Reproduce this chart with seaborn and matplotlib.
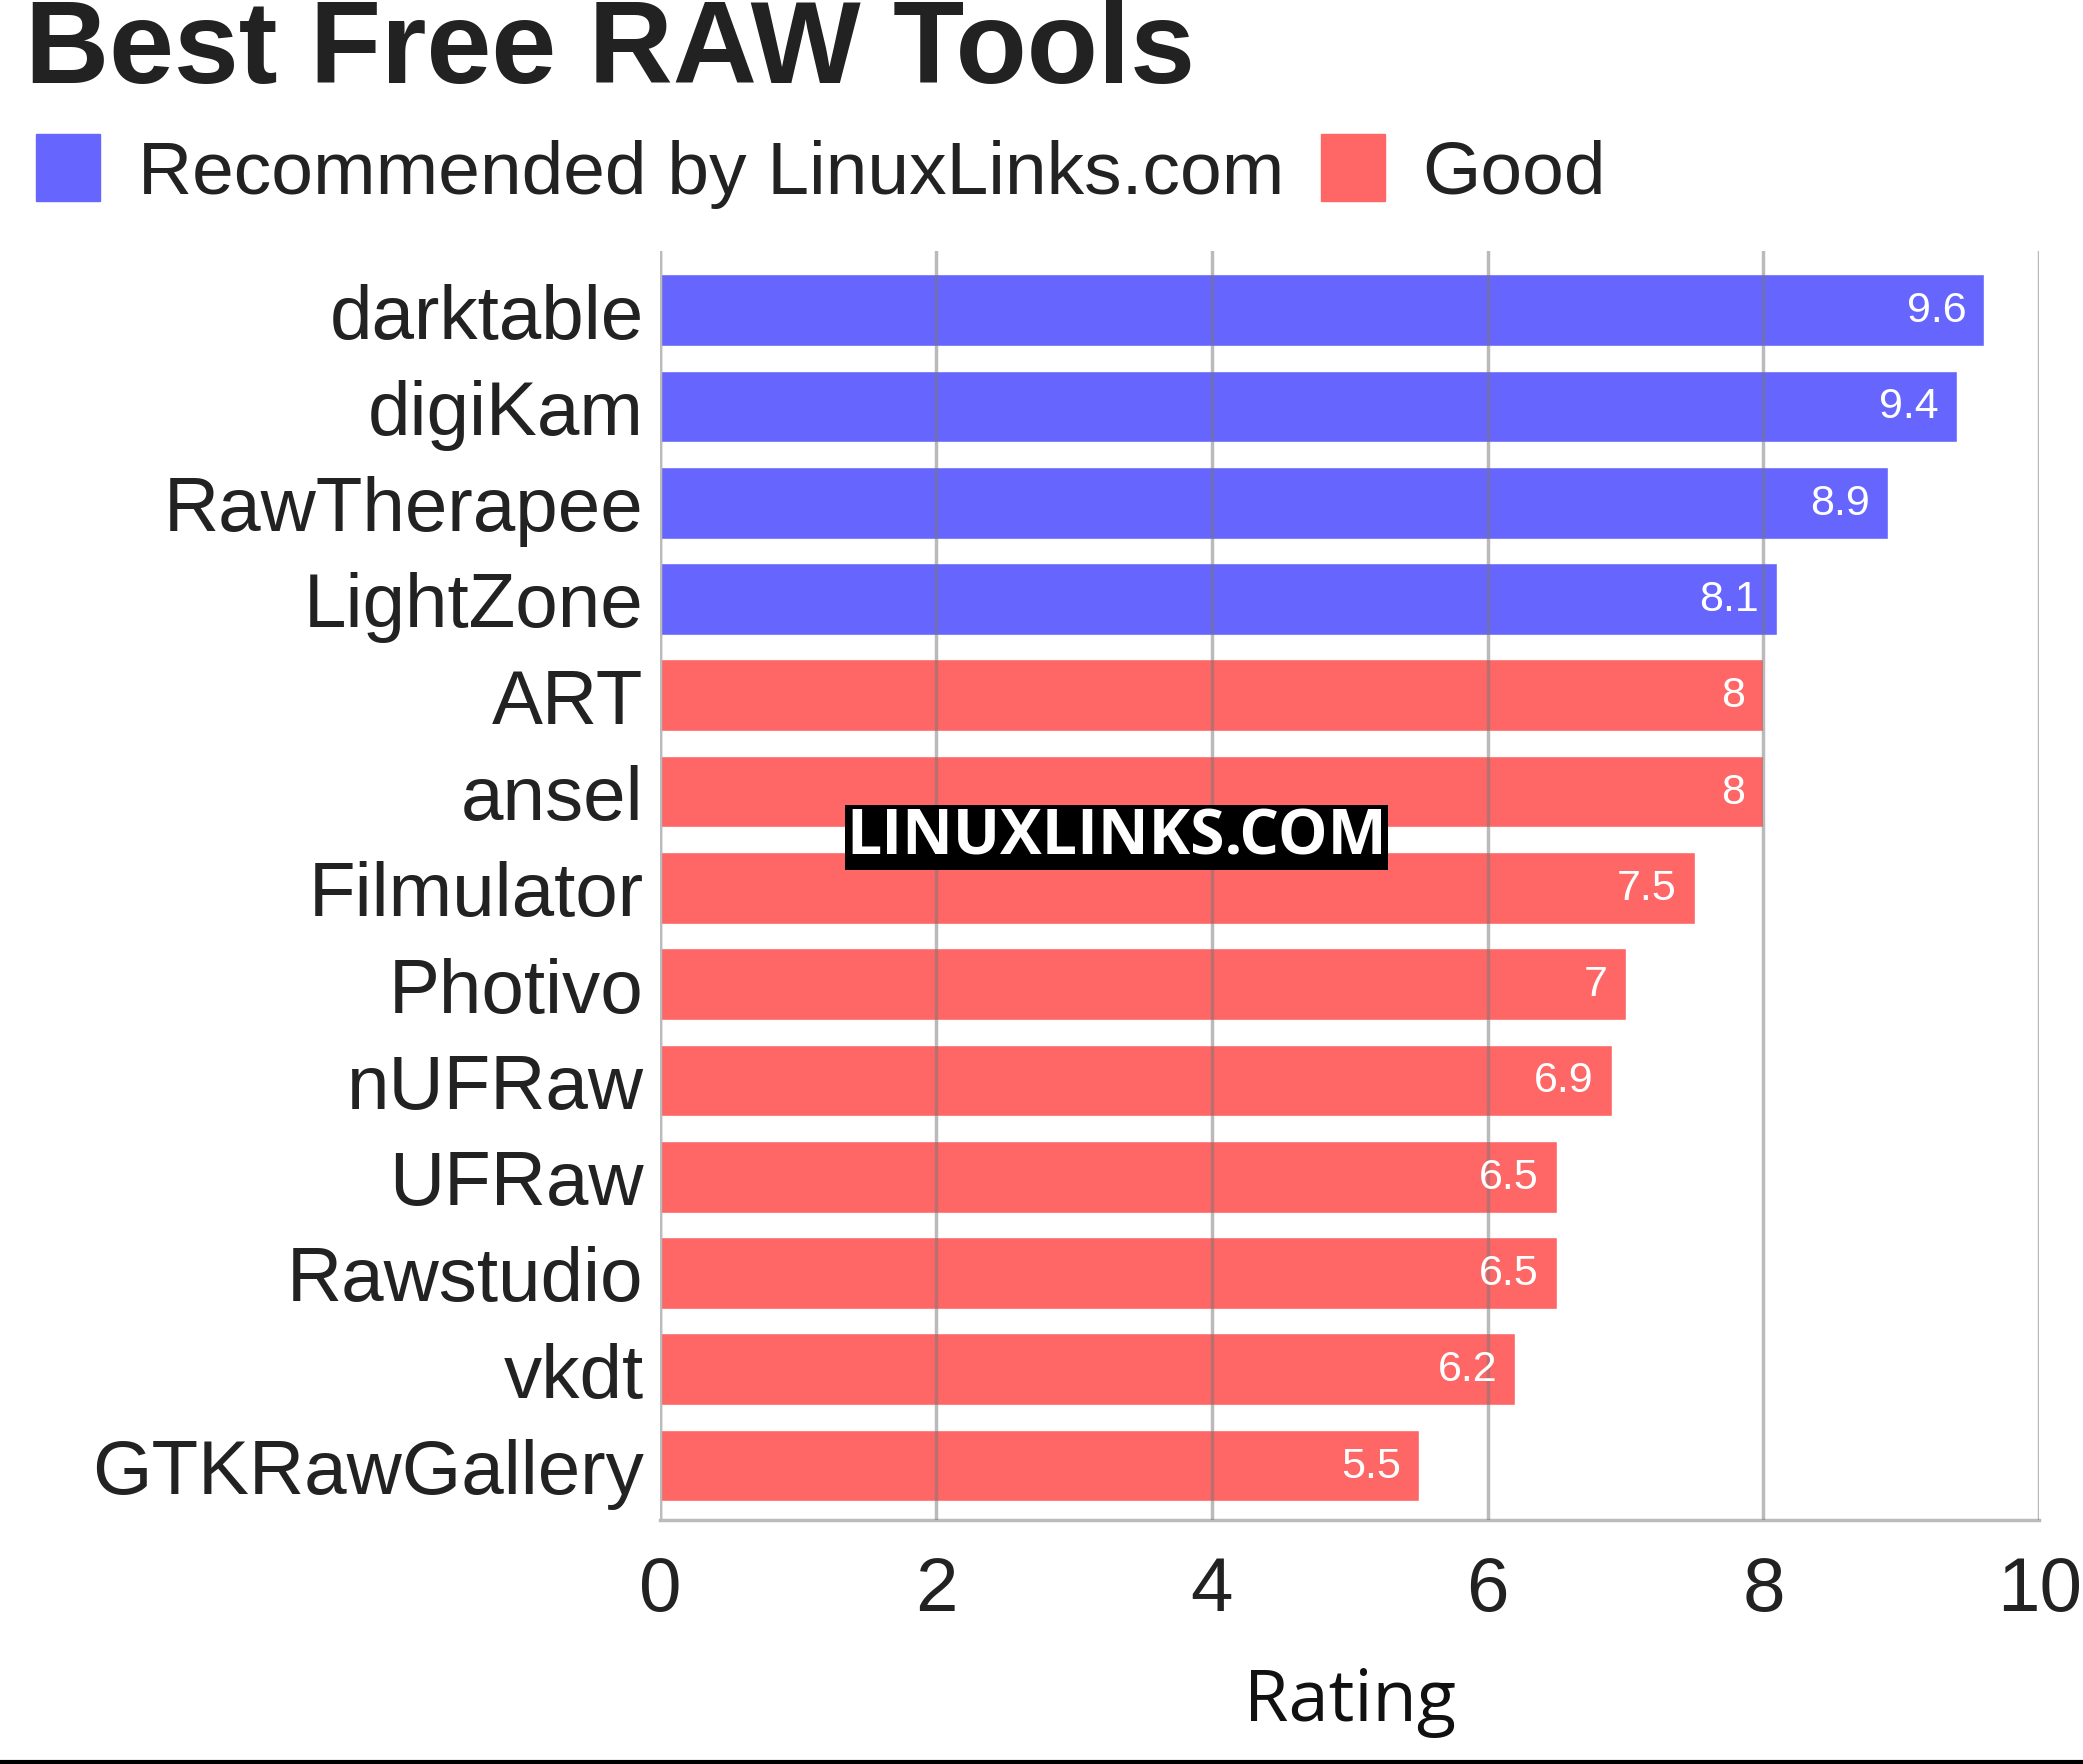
import matplotlib
matplotlib.use("Agg")
import matplotlib.pyplot as plt
import seaborn as sns
import pandas as pd
from matplotlib.patches import Patch

tools = ["darktable", "digiKam", "RawTherapee", "LightZone", "ART", "ansel", "Filmulator",
         "Photivo", "nUFRaw", "UFRaw", "Rawstudio", "vkdt", "GTKRawGallery"]
ratings = [9.6, 9.4, 8.9, 8.1, 8, 8, 7.5, 7, 6.9, 6.5, 6.5, 6.2, 5.5]
groups = ["Recommended by LinuxLinks.com"] * 4 + ["Good"] * 9
colors = {"Recommended by LinuxLinks.com": "#6666ff", "Good": "#ff6666"}

df = pd.DataFrame({"tool": tools, "rating": ratings, "group": groups})

sns.set_theme(style="white")
plt.rcParams['font.family'] = ['Liberation Sans', 'DejaVu Sans']
fig = plt.figure(figsize=(20.83, 17.65), dpi=100)
ax = fig.add_axes([0.317, 0.138, 0.662, 0.719])
sns.barplot(data=df, x="rating", y="tool", hue="group", palette=colors, dodge=False,
            width=0.745, ax=ax, legend=False, saturation=1, zorder=2)
ax.set_xlim(0, 10)
ax.set_ylim(12.57, -0.61)
ax.set_xticks([0, 2, 4, 6, 8, 10])
ax.grid(axis="x", color="#777777", alpha=0.5, linewidth=2.5, zorder=3)
ax.set_axisbelow(False)
for s in ["top", "right", "left"]:
    ax.spines[s].set_visible(False)
ax.spines["bottom"].set_color("#bbbbbb")
ax.spines["bottom"].set_linewidth(2.5)
ax.axvline(0, color="#bbbbbb", lw=2.5, zorder=4)
ax.tick_params(axis="y", labelsize=55, colors="#222222", length=0, pad=12)
ax.tick_params(axis="x", labelsize=55, colors="#222222", length=0, pad=25)
ax.set_ylabel("")
ax.set_xlabel("Rating", fontsize=52, color="#111111", family=["Open Sans", "DejaVu Sans"], labelpad=28)
for i, v in enumerate(ratings):
    ax.text(v - 0.13, i, f"{v:g}", ha="right", va="center", color="white", fontsize=31)

fig.text(0.012, 0.953, "Best Free RAW Tools", fontsize=84, fontweight="bold", color="#222222", va="baseline")
handles = [Patch(color=colors[k], label=k) for k in colors]
fig.legend(handles=handles, loc="upper left", bbox_to_anchor=(-0.015, 0.962), ncol=2, frameon=False,
           fontsize=54, handlelength=0.85, handleheight=1.0, handletextpad=0.5, columnspacing=0.5,
           labelcolor="#222222")
fig.text(0.536, 0.525, "LINUXLINKS.COM", fontsize=45, fontweight="bold", color="white",
         family=["Open Sans", "DejaVu Sans"], ha="center", va="center",
         bbox=dict(facecolor="black", edgecolor="none", pad=1))
fig.add_artist(plt.Line2D([0, 1], [0.001, 0.001], color="black", lw=3, transform=fig.transFigure))
fig.savefig("out.png", dpi=100)
